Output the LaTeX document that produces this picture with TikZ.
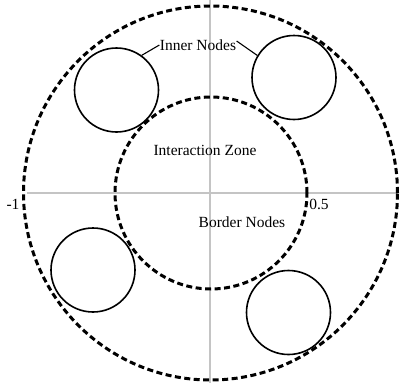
\documentclass[tikz,border=0pt]{standalone}
\usepackage{fontspec}
\setmainfont{Liberation Serif}
\usetikzlibrary{positioning, calc}
\tikzset{every node/.style={font=\fontsize{15.5}{17}\selectfont}}
\definecolor{axisgray}{HTML}{C4C4C4}

\begin{document}
\begin{tikzpicture}[x=1pt, y=-1pt,
    zone/.style={circle, draw, line width=3pt, dash pattern=on 6pt off 3.5pt, inner sep=0pt},
    nodeball/.style={circle, draw, line width=1.6pt, minimum size=84pt, inner sep=0pt},
    axisline/.style={axisgray, line width=1.6pt}]
    \useasboundingbox (0,0) rectangle (402,383);
    % axes
    \coordinate (xl) at (27,193);
    \coordinate (xr) at (397,193);
    \coordinate (yt) at (210,0);
    \coordinate (yb) at (210,383);
    \draw[axisline] (xl) -- (xr);
    \draw[axisline] (yt) -- (yb);
    % zones
    \node[zone, minimum size=374pt] (outer) at (210.5,193) {};
    \node[zone, minimum size=192pt] (inner) at (211,193) {};
    % nodes
    \node[nodeball] (n1) at (116.5,90) {};
    \node[nodeball] (n2) at (294,77.5) {};
    \node[nodeball] (n3) at (93,270) {};
    \node[nodeball] (n4) at (288.5,312.5) {};
    % labels
    \node (lblinner) at (198,45) {Inner Nodes};
    \node (lblzone) at (205,150) {Interaction Zone};
    \node (lblborder) at (242,222) {Border Nodes};
    \node (lblm1) at (13,204) {-1};
    \node (lblhalf) at (319,204) {0.5};
    \draw[line width=1.1pt] ($(lblinner.west)+(3,0)$) -- (n1.54);
    \draw[line width=1.1pt] ($(lblinner.east)+(-3,-4)$) -- (n2.149);
  \end{tikzpicture}
\end{document}
